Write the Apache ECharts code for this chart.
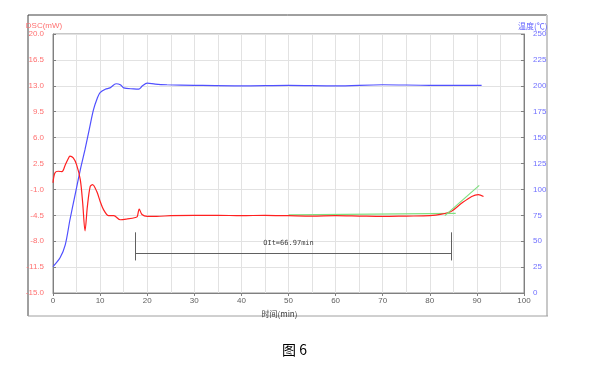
<!DOCTYPE html>
<html><head><meta charset="utf-8">
<script src="https://cdn.jsdelivr.net/npm/echarts@6/dist/echarts.min.js"></script>
<style>html,body{margin:0;padding:0;background:#fff}#c{width:600px;height:370px}</style>
</head><body><div id="c"></div>
<script>
// ---- data ----
var dscTime = [0,0.4,1.1,1.9,2.6,3.2,3.6,4.3,5.0,5.8,6.3,6.8,7.3,7.9,8.4,9.3,10.0,10.7,11.8,12.9,14.3,15.7,17.5,17.9,18.3,18.9,20,22,25,30,35,40,45,50,55,60,65,70,75,80,82.5,84.6,86.8,88.9,90.3,91.4];
var dscValues = [-0.1,1.2,1.45,1.4,2.3,3.1,3.5,3.25,2.35,0.3,-2.8,-6.6,-3.3,-0.6,-0.35,-1.3,-2.6,-3.7,-4.55,-4.55,-5.1,-5.0,-4.8,-4.65,-3.65,-4.4,-4.65,-4.65,-4.55,-4.5,-4.5,-4.55,-4.5,-4.55,-4.6,-4.55,-4.6,-4.65,-4.6,-4.55,-4.35,-3.95,-2.85,-1.95,-1.7,-1.95];
var tempTime = [0,1.5,2.6,3.6,4.7,5.8,6.8,7.7,8.6,9.4,10,11.1,12.1,13.4,14.3,15,17.1,18.2,19,20,21.7,24.2,30,40,50,60,70,80,91];
var tempValues = [25.5,34,46.5,70.7,95,119,138.6,158,177,188,193.5,196.7,198,202,201,198,197,196.7,200,202.5,201.6,201,200.5,200,200.5,200,201,200.5,200.5];
var baselineTime = [50,85.5];
var baselineValues = [-4.45,-4.25];
var tangentTime = [83.2,90.5];
var tangentValues = [-4.55,-0.45];
var oitStart = 17.5, oitEnd = 84.5, oitLevel = -9.6, oitBarTop = -6.8, oitBarBottom = -10.6;
var oitLabel = 'OIt=66.97min';
var xTicks = {min:0, max:100, interval:10};
var dscTicks = {min:-15, max:20, interval:3.5};
var tempTicks = {min:0, max:250, interval:25};

function pairs(a,b){return a.map(function(t,i){return [t,b[i]];});}

var chart = echarts.init(document.getElementById('c'));
var lab = {fontSize:8, fontFamily:'Liberation Sans'};
chart.setOption({
  animation:false,
  backgroundColor:'#fff',
  title:{text:'图 6', left:277, top:338, textStyle:{fontSize:14, fontWeight:'normal', color:'#000', fontFamily:'Noto Sans CJK SC'}},
  graphic:[
    {type:'line', shape:{x1:28,y1:15,x2:547,y2:15}, style:{stroke:'#404040', lineWidth:1}},
    {type:'line', shape:{x1:28,y1:15,x2:28,y2:316}, style:{stroke:'#404040', lineWidth:1}},
    {type:'line', shape:{x1:547,y1:15,x2:547,y2:316}, style:{stroke:'#c8c8c8', lineWidth:2}},
    {type:'line', shape:{x1:28,y1:316,x2:548,y2:316}, style:{stroke:'#a0a0a0', lineWidth:1}}
  ],
  grid:{left:53, right:76, top:34, bottom:77, show:true, borderColor:'#909090', borderWidth:1},
  xAxis:{type:'value', min:xTicks.min, max:xTicks.max, interval:xTicks.interval,
    name:'时间(min)', nameLocation:'middle', nameGap:12,
    nameTextStyle:{fontSize:8, color:'#404040', fontFamily:'Noto Sans CJK SC', padding:[0,18,0,0]},
    axisLine:{onZero:false, lineStyle:{color:'#808080'}}, axisTick:{show:true, length:3, lineStyle:{color:'#808080'}},
    axisLabel:Object.assign({color:'#606060', margin:4}, lab),
    splitLine:{show:true, lineStyle:{color:'#e2e2e2'}},
    minorTick:{show:false, splitNumber:2},
    minorSplitLine:{show:true, lineStyle:{color:'#e2e2e2'}}
  },
  yAxis:[
    {type:'value', min:dscTicks.min, max:dscTicks.max, interval:dscTicks.interval, position:'left',
      name:'DSC(mW)', nameGap:1, nameTextStyle:{fontSize:8, color:'#ff7070', align:'center', fontFamily:'Liberation Sans', padding:[0,18,0,0]},
      axisLine:{show:true, onZero:false, lineStyle:{color:'#808080'}}, axisTick:{show:true, inside:true, length:3, lineStyle:{color:'#808080'}},
      axisLabel:Object.assign({color:'#ff7070', margin:9, formatter:function(v){return v.toFixed(1);}}, lab),
      splitLine:{show:true, lineStyle:{color:'#e2e2e2'}}},
    {type:'value', min:tempTicks.min, max:tempTicks.max, interval:tempTicks.interval, position:'right',
      name:'温度(℃)', nameGap:1, nameTextStyle:{fontSize:8, color:'#6060ff', align:'left', fontFamily:'Noto Sans CJK SC', padding:[0,0,0,-6]},
      axisLine:{show:true, onZero:false, lineStyle:{color:'#808080'}}, axisTick:{show:true, inside:true, length:3, lineStyle:{color:'#808080'}},
      axisLabel:Object.assign({color:'#7070ff', margin:9}, lab),
      splitLine:{show:false}}
  ],
  series:[
    {name:'temp', type:'line', yAxisIndex:1, data:pairs(tempTime,tempValues), smooth:0.3, showSymbol:false,
      lineStyle:{color:'#5050ff', width:1.2}},
    {name:'baseline', type:'line', yAxisIndex:0, data:pairs(baselineTime,baselineValues), showSymbol:false,
      lineStyle:{color:'#80e080', width:1.2}},
    {name:'dsc', type:'line', yAxisIndex:0, data:pairs(dscTime,dscValues), smooth:0.3, showSymbol:false,
      lineStyle:{color:'#ff2020', width:1.2},
      markLine:{silent:true, symbol:'none', label:{show:false}, lineStyle:{color:'#606060', width:1, type:'solid'},
        data:[
          [{coord:[oitStart,oitLevel]},{coord:[oitEnd,oitLevel]}],
          [{coord:[oitStart,oitBarTop]},{coord:[oitStart,oitBarBottom]}],
          [{coord:[oitEnd,oitBarTop]},{coord:[oitEnd,oitBarBottom]}]
        ]},
      markPoint:{silent:true, symbol:'rect', symbolSize:0,
        label:{show:true, position:'inside', formatter:oitLabel, fontSize:7, color:'#404040', fontFamily:'DejaVu Sans Mono'},
        data:[{coord:[(oitStart+oitEnd)/2 - 1, (oitLevel+oitBarTop)/2 - 0.1]}]}},
    {name:'tangent', type:'line', yAxisIndex:0, data:pairs(tangentTime,tangentValues), showSymbol:false,
      lineStyle:{color:'#80e080', width:1.2}}
  ]
});
</script></body></html>
